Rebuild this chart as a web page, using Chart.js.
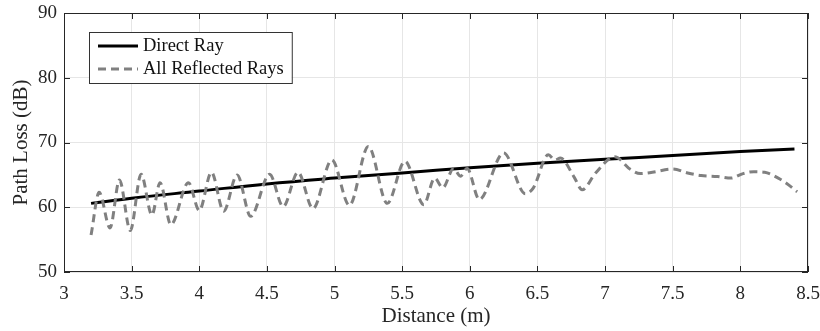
<!DOCTYPE html>
<html>
<head>
<meta charset="utf-8">
<script src="https://cdn.jsdelivr.net/npm/chart.js"></script>
<style>
    html, body { margin: 0; padding: 0; background: #fff; }
    #wrap { width: 820px; height: 331px; }
</style>
</head>
<body>
<div id="wrap"><canvas id="pathLossChart"></canvas></div>
<script>
    // Values
    const seriesNames = ['Direct Ray', 'All Reflected Rays'];

    const directDist = [3.2, 3.5, 4.0, 4.5, 5.0, 5.5, 6.0, 6.5, 7.0, 7.5, 8.0, 8.4];
    const directLoss = [60.6, 61.4, 62.5, 63.6, 64.5, 65.3, 66.1, 66.8, 67.4, 68.0, 68.6, 69.0];

    const reflDist = [3.20, 3.26, 3.34, 3.41, 3.49, 3.57, 3.65, 3.71, 3.79, 3.92,
                      4.00, 4.09, 4.18, 4.28, 4.38, 4.52, 4.62, 4.73, 4.84, 4.98,
                      5.11, 5.25, 5.39, 5.52, 5.66, 5.74, 5.80, 5.88, 5.93, 5.98,
                      6.07, 6.25, 6.41, 6.47, 6.58, 6.63, 6.67, 6.77, 6.83, 6.93,
                      7.07, 7.19, 7.26, 7.35, 7.50, 7.61, 7.71, 7.83, 7.93, 8.02,
                      8.10, 8.18, 8.28, 8.34, 8.42];
    const reflLoss = [55.7, 62.3, 56.8, 64.2, 56.4, 65.1, 58.8, 63.8, 57.3, 63.8,
                      59.5, 65.4, 59.4, 65.0, 58.6, 65.1, 60.1, 65.4, 59.8, 67.3,
                      60.3, 69.4, 60.6, 67.1, 60.4, 64.5, 63.0, 66.0, 64.8, 66.0,
                      61.2, 68.4, 62.1, 63.0, 68.1, 67.3, 67.6, 64.7, 62.7, 65.3,
                      67.8, 65.8, 65.2, 65.4, 65.9, 65.3, 64.9, 64.75, 64.5, 65.2,
                      65.5, 65.4, 64.5, 63.7, 62.4];

    const xTicks = [3, 3.5, 4, 4.5, 5, 5.5, 6, 6.5, 7, 7.5, 8, 8.5];
    const yTicks = [50, 60, 70, 80, 90];

    const serif = "'Liberation Serif', 'Times New Roman', serif";
    Chart.defaults.font.family = serif;
    Chart.defaults.color = '#262626';

    const toPoints = (xs, ys) => xs.map((x, i) => ({ x: x, y: ys[i] }));

    // MATLAB-like box with inward ticks
    const boxPlugin = {
        id: 'boxPlugin',
        afterDraw(chart) {
            const { ctx, chartArea: a, scales } = chart;
            const len = 6;
            ctx.save();
            ctx.strokeStyle = '#262626';
            ctx.lineWidth = 1;
            ctx.strokeRect(a.left + 0.5, a.top + 0.5, a.right - a.left - 1, a.bottom - a.top - 1);
            ctx.beginPath();
            xTicks.forEach(v => {
                const px = Math.round(scales.x.getPixelForValue(v)) + 0.5;
                ctx.moveTo(px, a.bottom); ctx.lineTo(px, a.bottom - len);
                ctx.moveTo(px, a.top); ctx.lineTo(px, a.top + len);
            });
            yTicks.forEach(v => {
                const py = Math.round(scales.y.getPixelForValue(v)) + 0.5;
                ctx.moveTo(a.left, py); ctx.lineTo(a.left + len, py);
                ctx.moveTo(a.right, py); ctx.lineTo(a.right - len, py);
            });
            ctx.stroke();
            ctx.restore();
        }
    };

    // Legend box inside the plot, upper left
    const insideLegend = {
        id: 'insideLegend',
        afterDraw(chart) {
            const { ctx, chartArea: a } = chart;
            const items = [chart.data.datasets[1], chart.data.datasets[0]];
            ctx.save();
            ctx.font = '18.5px ' + serif;
            const textW = Math.max(...items.map(d => ctx.measureText(d.label).width));
            const x0 = a.left + 25, y0 = a.top + 19;
            const w = 9 + 40 + 5 + textW + 8, h = 51;
            ctx.fillStyle = '#fff';
            ctx.fillRect(x0, y0, w, h);
            ctx.strokeStyle = '#333';
            ctx.lineWidth = 1;
            ctx.strokeRect(x0 + 0.5, y0 + 0.5, w, h);
            items.forEach((d, i) => {
                const cy = y0 + 14 + i * 23;
                ctx.beginPath();
                ctx.strokeStyle = d.borderColor;
                ctx.lineWidth = d.borderWidth;
                ctx.setLineDash(d.borderDash || []);
                ctx.moveTo(x0 + 9, cy);
                ctx.lineTo(x0 + 49, cy);
                ctx.stroke();
                ctx.setLineDash([]);
                ctx.fillStyle = '#111';
                ctx.textBaseline = 'middle';
                ctx.fillText(d.label, x0 + 54, cy);
            });
            ctx.restore();
        }
    };

    const ctx = document.getElementById('pathLossChart').getContext('2d');
    new Chart(ctx, {
        type: 'line',
        data: {
            datasets: [
                {
                    label: seriesNames[1],
                    data: toPoints(reflDist, reflLoss),
                    borderColor: '#808080',
                    borderWidth: 3,
                    borderDash: [8, 5],
                    pointRadius: 0,
                    cubicInterpolationMode: 'monotone',
                    fill: false,
                    order: 0
                },
                {
                    label: seriesNames[0],
                    data: toPoints(directDist, directLoss),
                    borderColor: '#000',
                    borderWidth: 3,
                    pointRadius: 0,
                    tension: 0.4,
                    fill: false,
                    order: 1
                }
            ]
        },
        options: {
            responsive: true,
            maintainAspectRatio: false,
            animation: false,
            layout: { padding: { top: 13, right: 12, bottom: 0, left: 0 } },
            plugins: {
                legend: { display: false },
                tooltip: { enabled: false }
            },
            scales: {
                x: {
                    type: 'linear',
                    min: 3,
                    max: 8.5,
                    afterBuildTicks: s => { s.ticks = xTicks.map(v => ({ value: v })); },
                    afterFit: s => { s.height = 59; s.paddingLeft = 0; s.paddingRight = 0; },
                    ticks: {
                        padding: 11,
                        font: { size: 19 },
                        color: '#262626',
                        maxRotation: 0,
                        callback: v => String(v)
                    },
                    grid: { color: '#e6e6e6', drawTicks: false },
                    border: { display: false },
                    title: {
                        display: true,
                        text: 'Distance (m)',
                        font: { size: 21 },
                        color: '#262626',
                        padding: { top: 0, bottom: 2 }
                    }
                },
                y: {
                    min: 50,
                    max: 90,
                    afterBuildTicks: s => { s.ticks = yTicks.map(v => ({ value: v })); },
                    afterFit: s => { s.width = 64; s.paddingTop = 0; s.paddingBottom = 0; },
                    ticks: {
                        padding: 7,
                        font: { size: 19 },
                        color: '#262626',
                        callback: v => String(v)
                    },
                    grid: { color: '#e6e6e6', drawTicks: false },
                    border: { display: false },
                    title: {
                        display: true,
                        text: 'Path Loss (dB)',
                        font: { size: 21 },
                        color: '#262626',
                        padding: { top: 9, bottom: 0 }
                    }
                }
            }
        },
        plugins: [boxPlugin, insideLegend]
    });
</script>
</body>
</html>
